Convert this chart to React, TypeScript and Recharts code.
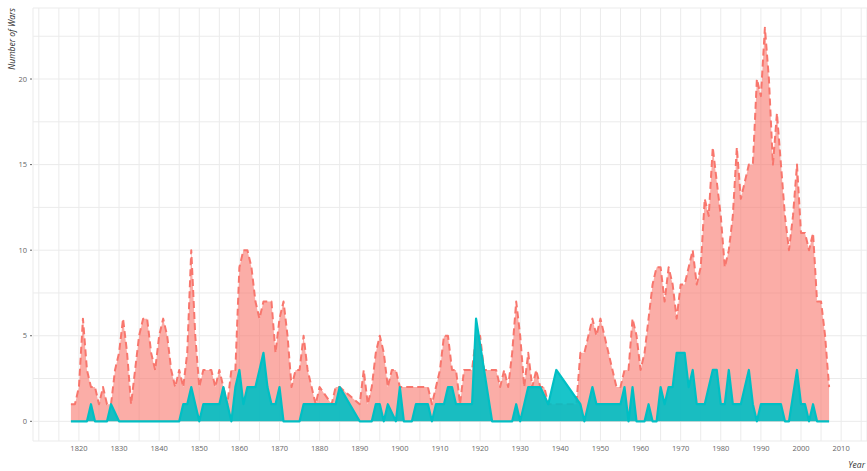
import React from 'react';
import { AreaChart, Area, XAxis, YAxis, CartesianGrid } from 'recharts';

// one value per year, 1818-2007; null = no point (line joins neighbours)
const startYear = 1818;

const civilWars: (number | null)[] = [
  1, 1, // 1818-1819
  2, 6, 3, 2, 2, 1, 2, 1, 1, 3, // 1820s
  4, 6, 4, 1, 3, 5, 6, 6, 4, 3, // 1830s
  5, 6, 5, 3, 2, 3, 2, 4, 10, 5, // 1840s
  2, 3, 3, 3, 2, 3, 2, 1, 3, 3, // 1850s
  9, 10, 10, 9, 7, 6, 7, 7, 7, 4, // 1860s
  6, 7, 5, 2, 3, 3, 5, 3, 2, 1, // 1870s
  2, null, null, 1, 2, 2, null, null, null, null, // 1880s
  1, 3, 1, 2, 4, 5, 4, 2, 3, 3, // 1890s
  2, 2, 2, 2, 2, 2, 2, 2, 1, 2, // 1900s
  3, 5, 5, 3, 3, 1, 3, 3, 3, 5, // 1910s
  5, 3, 3, 3, 3, 2, 3, 2, 4, 7, // 1920s
  5, 2, 4, 2, 3, 2, 2, 1, 1, 1, // 1930s
  1, 1, 1, 1, 1, 4, 4, 5, 6, 5, // 1940s
  6, 5, 4, 3, 2, 2, 3, 3, 6, 5, // 1950s
  3, 4, 6, 8, 9, 9, 7, 9, 8, 6, // 1960s
  8, 8, 9, 10, 8, 9, 13, 12, 16, 14, // 1970s
  12, 9, 10, 12, 16, 13, 14, 15, 15, 20, // 1980s
  19, 23, 20, 15, 18, 15, 12, 10, 12, 15, // 1990s
  11, 11, 10, 11, 7, 7, 5, 2, // 2000-2007
];

const interstateWars: (number | null)[] = [
  0, 0, // 1818-1819
  0, 0, 0, 1, 0, 0, 0, 0, 1, null, // 1820s
  0, 0, 0, 0, 0, 0, 0, 0, 0, 0, // 1830s
  0, 0, 0, 0, 0, 0, 1, 1, 2, 1, // 1840s
  0, 1, 1, 1, 1, 1, 2, 1, 0, 2, // 1850s
  3, 1, 2, 2, 2, 3, 4, 2, 1, 1, // 1860s
  2, 0, 0, 0, 0, 0, 1, 1, 1, 1, // 1870s
  1, 1, 1, 1, 1, 2, null, null, null, null, // 1880s
  0, 0, 0, 0, 1, 1, 0, 1, null, 0, // 1890s
  2, 0, 0, 0, 1, 1, 1, 1, 0, 1, // 1900s
  1, 1, 2, 2, 1, 1, 1, 1, 1, 6, // 1910s
  null, null, null, 0, 0, 0, 0, 0, 0, 1, // 1920s
  0, 1, 2, 2, 2, 2, null, 1, 2, 3, // 1930s
  null, null, null, null, null, 1, 0, 1, 2, 1, // 1940s
  1, 1, 1, 1, 1, 1, 2, 0, 2, 0, // 1950s
  0, 0, 1, 0, 0, 2, 1, 2, 2, 4, // 1960s
  4, 4, 2, 3, 1, 1, 1, 2, 3, 3, // 1970s
  1, 1, 3, 1, 1, 1, 2, 3, 1, 0, // 1980s
  1, 1, 1, 1, 1, 1, 0, 0, null, 3, // 1990s
  1, 1, 0, 1, 0, 0, 0, 0, // 2000-2007
];

const xTicks = [
  1810, 1815, 1820, 1825, 1830, 1835, 1840, 1845, 1850, 1855, 1860, 1865, 1870, 1875,
  1880, 1885, 1890, 1895, 1900, 1905, 1910, 1915, 1920, 1925, 1930, 1935, 1940, 1945,
  1950, 1955, 1960, 1965, 1970, 1975, 1980, 1985, 1990, 1995, 2000, 2005, 2010, 2015,
];
const yTicks = [0, 2.5, 5, 7.5, 10, 12.5, 15, 17.5, 20, 22.5];

const data = civilWars.map((v, i) => ({
  year: startYear + i,
  civil: v,
  inter: interstateWars[i],
}));

const FONT = '"Open Sans", sans-serif';

const XTick = ({ x, y, payload }: any) => {
  const v = payload.value;
  if (v % 10 !== 0 || v < 1820) return null;
  return (
    <text x={x} y={y + 10} textAnchor="middle" fontSize={7.5} fill="#666" fontFamily={FONT}>
      {v}
    </text>
  );
};

const YTick = ({ x, y, payload }: any) => {
  const v = payload.value;
  if (v % 5 !== 0) return null;
  return (
    <g>
      <line x1={x - 3} x2={x - 1} y1={y} y2={y} stroke="#666" strokeWidth={1} />
      <text x={x - 6} y={y + 2.5} textAnchor="end" fontSize={7.5} fill="#666" fontFamily={FONT}>
        {v}
      </text>
    </g>
  );
};

export default function App() {
  return (
    <div style={{ position: 'absolute', left: 0, top: 0, width: 867, height: 471, background: '#fff' }}>
      <AreaChart
        width={867}
        height={471}
        data={data}
        margin={{ top: 8, right: 0, bottom: 0, left: 0 }}
      >
        <CartesianGrid stroke="#ebebeb" strokeWidth={1} />
        <XAxis
          dataKey="year"
          type="number"
          domain={[1808.55, 2016.45]}
          ticks={xTicks}
          height={30}
          axisLine={false}
          tickLine={false}
          tickSize={0}
          tickMargin={0}
          tick={<XTick />}
          interval={0}
          allowDataOverflow
        />
        <YAxis
          type="number"
          domain={[-1.15, 24.15]}
          ticks={yTicks}
          width={33}
          axisLine={false}
          tickLine={false}
          tickSize={0}
          tickMargin={0}
          tick={<YTick />}
          interval={0}
          allowDataOverflow
        />
        <Area
          type="linear"
          dataKey="civil"
          stroke="#F8766D"
          strokeWidth={2}
          strokeDasharray="7 4"
          strokeLinejoin="round"
          fill="#F8766D"
          fillOpacity={0.6}
          connectNulls
          isAnimationActive={false}
          dot={false}
          activeDot={false}
        />
        <Area
          type="linear"
          dataKey="inter"
          stroke="#00BFC4"
          strokeWidth={2.2}
          strokeLinejoin="round"
          fill="#00BFC4"
          fillOpacity={0.9}
          connectNulls
          isAnimationActive={false}
          dot={false}
          activeDot={false}
        />
      </AreaChart>
      <svg width={867} height={471} style={{ position: 'absolute', left: 0, top: 0, pointerEvents: 'none' }}>
        <text
          transform="translate(15,8) rotate(-90)"
          textAnchor="end"
          fontSize={8.5}
          fontStyle="italic"
          fill="#333"
          fontFamily={FONT}
        >
          Number of Wars
        </text>
        <text x={865} y={468} textAnchor="end" fontSize={8.5} fontStyle="italic" fill="#333" fontFamily={FONT}>
          Year
        </text>
      </svg>
    </div>
  );
}
